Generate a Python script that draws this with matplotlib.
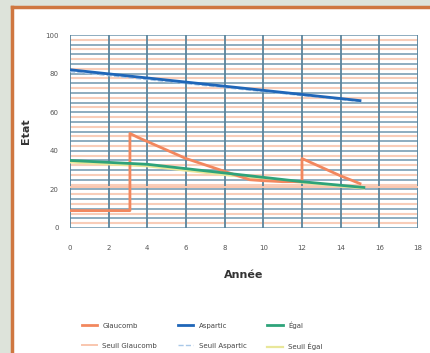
import matplotlib.pyplot as plt
import numpy as np

# series values
annee_glau = [0, 1, 2, 3.1, 3.1, 3.5, 6, 9.3, 10, 11, 12, 12, 14, 15]
etat_glau = [9, 9, 9, 9, 49, 47, 36, 25, 24.5, 24, 24, 36, 27, 23]

annee_asp = [0, 15]
etat_asp = [82, 66]

annee_egal = [0, 4, 8, 12, 15.2]
etat_egal = [35, 33, 28.5, 24, 21]

seuil_glau_x = [0, 18]
seuil_glau_y = [21, 21]
seuil_asp_x = [0, 15]
seuil_asp_y = [81, 65.5]
seuil_egal_x = [0, 4, 8, 12, 15.2]
seuil_egal_y = [34, 32, 27.5, 23.5, 20.5]

xticks = list(range(0, 19, 2))
yticks = list(range(0, 101, 20))

fig = plt.figure(figsize=(4.3, 3.53), dpi=100)
fig.patch.set_facecolor('#dde3da')

# white panel with orange frame
panel = fig.add_axes([12/430, 0, 1 - 12/430, 1 - 7/353])
panel.set_facecolor('white')
panel.set_xticks([]); panel.set_yticks([])
for s in ['right', 'bottom']:
    panel.spines[s].set_visible(False)
panel.spines['top'].set_color('#cf7740'); panel.spines['top'].set_linewidth(2.5)
panel.spines['left'].set_color('#cf7740'); panel.spines['left'].set_linewidth(2.5)

ax = fig.add_axes([70/430, 1 - 228/353, 348/430, 193/353])
ax.set_facecolor('white')
ax.set_xlim(0, 18); ax.set_ylim(0, 100)

# grid: salmon in-between lines, dark lines every 5 and every 2 years
for y in np.arange(2.5, 100, 5):
    ax.axhline(y, color='#f8cdb9', lw=1.5, zorder=0)
for y in range(0, 101, 5):
    ax.axhline(y, color='#6f96ad', lw=1.1, zorder=1)
for x in xticks:
    ax.axvline(x, color='#5a849c', lw=1.3, zorder=1)

ax.plot(seuil_glau_x, seuil_glau_y, color='#f9c6ae', lw=1.4, zorder=2, label='Seuil Glaucomb')
ax.plot(seuil_asp_x, seuil_asp_y, color='#a9c8e8', lw=1.0, ls='--', zorder=2, label='Seuil Aspartic')
ax.plot(seuil_egal_x, seuil_egal_y, color='#e9e79a', lw=1.6, zorder=2, label='Seuil Égal')
ax.plot(annee_glau, etat_glau, color='#f2875e', lw=2.0, zorder=3, label='Glaucomb')
ax.plot(annee_asp, etat_asp, color='#1f66b8', lw=2.0, zorder=3, label='Aspartic')
ax.plot(annee_egal, etat_egal, color='#2ea37a', lw=2.0, zorder=3, label='Égal')

ax.set_xticks(xticks); ax.set_yticks(yticks)
ax.tick_params(labelsize=5, length=0, colors='#555555')
ax.tick_params(axis='x', pad=12)
ax.tick_params(axis='y', pad=8)
for s in ax.spines.values():
    s.set_visible(False)
ax.set_xlabel('Année', fontsize=8, color='#333333', fontweight='bold', labelpad=14)
ax.set_ylabel('Etat', fontsize=8, color='#333333', fontweight='bold', labelpad=10)

h, l = ax.get_legend_handles_labels()
order = [3, 0, 4, 1, 5, 2]
fig.legend([h[i] for i in order], [l[i] for i in order], ncol=3,
           loc='lower center', bbox_to_anchor=(0.47, -0.01), fontsize=5,
           frameon=False, handlelength=2.2, columnspacing=3, labelspacing=2.0,
           labelcolor='#444444')

fig.savefig('out.png', dpi=100)
